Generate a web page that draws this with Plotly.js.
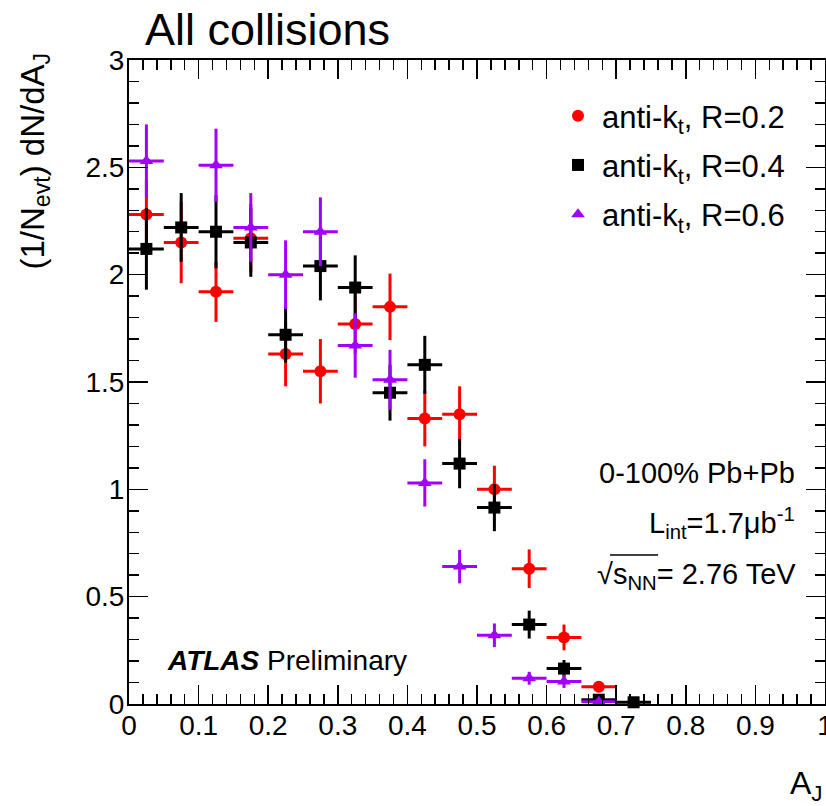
<!DOCTYPE html>
<html>
<head>
<meta charset="utf-8">
<script src="https://cdn.plot.ly/plotly-3.0.1.min.js"></script>
<style>
html,body{margin:0;padding:0;background:#fff;}
#chart{width:826px;height:806px;}
</style>
</head>
<body>
<div id="chart"></div>
<script>
// ---- data ----
const binHalfWidth = 0.025;

const xR02 = [0.025,0.075,0.125,0.175,0.225,0.275,0.325,0.375,0.425,0.475,0.525,0.575,0.625,0.675];
const yR02 = [2.28,2.15,1.92,2.17,1.63,1.55,1.77,1.85,1.33,1.35,1.00,0.63,0.31,0.08];
const eR02 = [0.16,0.19,0.14,0.16,0.15,0.15,0.14,0.155,0.13,0.13,0.11,0.09,0.06,0.025];

const xR04 = [0.025,0.075,0.125,0.175,0.225,0.275,0.325,0.375,0.425,0.475,0.525,0.575,0.625,0.675,0.725];
const yR04 = [2.12,2.22,2.20,2.15,1.72,2.04,1.94,1.45,1.58,1.12,0.915,0.37,0.165,0.02,0.008];
const eR04 = [0.19,0.16,0.17,0.16,0.13,0.16,0.15,0.13,0.135,0.115,0.11,0.065,0.04,0.015,0.01];

const xR06 = [0.025,0.125,0.175,0.225,0.275,0.325,0.375,0.425,0.475,0.525,0.575,0.625,0.675];
const yR06 = [2.53,2.51,2.22,2.00,2.20,1.67,1.51,1.03,0.64,0.32,0.12,0.105,0.01];
const eR06 = [0.17,0.17,0.16,0.16,0.16,0.15,0.14,0.11,0.078,0.055,0.03,0.03,0.01];

const seriesNames = ['anti-k<sub>t</sub>, R=0.2','anti-k<sub>t</sub>, R=0.4','anti-k<sub>t</sub>, R=0.6'];
const seriesColors = ['#ff0000','#000000','#a100ff'];
const seriesSymbols = ['circle','square','triangle-up'];

const xTickVals = [0,0.1,0.2,0.3,0.4,0.5,0.6,0.7,0.8,0.9,1];
const xTickText = ['0','0.1','0.2','0.3','0.4','0.5','0.6','0.7','0.8','0.9','1'];
const yTickVals = [0,0.5,1,1.5,2,2.5,3];
const yTickText = ['0','0.5','1','1.5','2','2.5','3'];

// ---- traces ----
const xs = [xR02,xR04,xR06], ys=[yR02,yR04,yR06], es=[eR02,eR04,eR06];
const traces = xs.map((x,i)=>({
  type:'scatter', mode:'markers', x:x, y:ys[i], name:seriesNames[i],
  legendgroup:'g'+i, cliponaxis:false,
  marker:{color:seriesColors[i], symbol:seriesSymbols[i], size:12, line:{width:0}},
  error_x:{type:'constant', value:binHalfWidth, thickness:3, width:0, color:seriesColors[i]},
  error_y:{type:'data', array:es[i], thickness:3, width:0, color:seriesColors[i]}
}));

const txtFont = {family:'"Liberation Sans", Arial, Helvetica, sans-serif', color:'#000'};
const tickFont = Object.assign({size:28}, txtFont);

const axisCommon = {
  showgrid:false, zeroline:false, showline:true, linecolor:'#000', linewidth:2,
  mirror:'allticks', ticks:'inside', ticklen:19, tickwidth:1.5, tickcolor:'#000',
  tickfont:tickFont, tickmode:'array', ticklabeloverflow:'allow'
};

const layout = {
  width:826, height:806,
  margin:{l:129, r:1, t:60, b:102},
  paper_bgcolor:'#fff', plot_bgcolor:'#fff',
  title:{text:'All collisions', font:Object.assign({size:45}, txtFont),
         xref:'container', x:145/826, xanchor:'left', yref:'container', y:1-29/806, yanchor:'middle'},
  xaxis:Object.assign({}, axisCommon, {range:[0,1], tickvals:xTickVals, ticktext:xTickText,
         ticklabelstandoff:-5,
         minor:{dtick:0.02, tick0:0, ticks:'inside', ticklen:10, tickwidth:1.5, tickcolor:'#000'}}),
  yaxis:Object.assign({}, axisCommon, {range:[0,3], tickvals:yTickVals, ticktext:yTickText,
         ticklabelstandoff:-3,
         minor:{dtick:0.1, tick0:0, ticks:'inside', ticklen:10, tickwidth:1.5, tickcolor:'#000'}}),
  showlegend:true,
  legend:{x:(554-129)/696, xanchor:'left', y:1-(89-60)/644, yanchor:'top',
          bgcolor:'rgba(0,0,0,0)', font:Object.assign({size:31}, txtFont),
          tracegroupgap:6, itemwidth:38},
  shapes:[
    {type:'line', xref:'paper', yref:'paper', x0:(610-129)/696, x1:(658-129)/696,
     y0:(704-555)/644, y1:(704-555)/644, line:{color:'#000', width:1.5}}
  ],
  annotations:[
    {xref:'paper', yref:'paper', x:(797-129)/696, y:(704-473)/644, xanchor:'right', yanchor:'middle',
     showarrow:false, text:'0-100% Pb+Pb', font:Object.assign({size:29}, txtFont)},
    {xref:'paper', yref:'paper', x:(797-129)/696, y:(704-523)/644, xanchor:'right', yanchor:'middle',
     showarrow:false, text:'L<sub>int</sub>=1.7μb<sup>-1</sup>', font:Object.assign({size:29}, txtFont)},
    {xref:'paper', yref:'paper', x:(798-129)/696, y:(704-576)/644, xanchor:'right', yanchor:'middle',
     showarrow:false, text:'√s<sub>NN</sub>= 2.76 TeV', font:Object.assign({size:29}, txtFont)},
    {xref:'paper', yref:'paper', x:(165-129)/696, y:(704-660)/644, xanchor:'left', yanchor:'middle',
     showarrow:false, text:'<b><i>ATLAS</i></b> Preliminary', font:Object.assign({size:28}, txtFont)},
    {xref:'paper', yref:'paper', x:(34-129)/696, y:1+10/644, xanchor:'center', yanchor:'top', textangle:-90,
     showarrow:false, text:'(1/N<sub>evt</sub>) dN/dA<sub>J</sub>', font:Object.assign({size:33}, txtFont)},
    {xref:'paper', yref:'paper', x:1, y:(704-785)/644, xanchor:'right', yanchor:'middle',
     showarrow:false, text:'A<sub>J</sub>', font:Object.assign({size:32}, txtFont)}
  ]
};

Plotly.newPlot('chart', traces, layout, {displayModeBar:false, staticPlot:true});
</script>
</body>
</html>
